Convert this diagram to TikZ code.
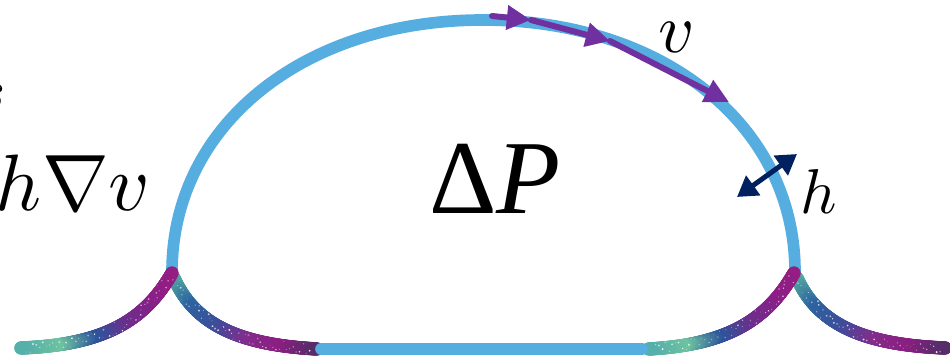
\documentclass[tikz,border=0pt]{standalone}
\usepackage{fontspec}
\newfontfamily\tms{Liberation Serif}
\usetikzlibrary{arrows.meta,decorations.markings}
\definecolor{domeblue}{RGB}{86,174,224}
\definecolor{vpurple}{RGB}{112,48,160}
\definecolor{hnavy}{RGB}{0,32,96}
% pattern A: purple -> green
\definecolor{gA0}{RGB}{150,30,130}
\definecolor{gA1}{RGB}{140,30,135}
\definecolor{gA2}{RGB}{110,45,140}
\definecolor{gA3}{RGB}{45,85,155}
\definecolor{gA4}{RGB}{110,195,160}
\definecolor{gA5}{RGB}{85,175,170}
% pattern B: teal -> dark purple
\definecolor{gB0}{RGB}{90,180,160}
\definecolor{gB1}{RGB}{45,100,160}
\definecolor{gB2}{RGB}{60,78,155}
\definecolor{gB3}{RGB}{130,45,140}
\definecolor{gB4}{RGB}{140,30,130}
\definecolor{gB5}{RGB}{85,45,105}
\newcommand\glitterfill[1]{%
  \pgfmathsetmacro\gf{(\pgfkeysvalueof{/pgf/decoration/mark info/distance from start})/(\pgfdecoratedpathlength)}%
  \pgfmathsetmacro\gs{5*min(\gf,0.9999)}%
  \pgfmathtruncatemacro\gk{floor(\gs)}%
  \pgfmathtruncatemacro\gkk{\gk+1}%
  \pgfmathsetmacro\gt{100*(\gs-\gk)}%
  \colorlet{gcur}{#1\gkk!\gt!#1\gk}%
  \fill[gcur] (0,0) circle (4pt);%
}
\newcommand\sparkle{%
  \pgfmathsetmacro\ry{(rnd-0.5)*6.5}%
  \pgfmathsetmacro\rr{0.2+0.5*rnd}%
  \pgfmathsetmacro\ro{0.3+0.6*rnd}%
  \fill[white,opacity=\ro] (0,\ry pt) circle (\rr pt);%
}
\tikzset{
  glitterA/.style={decorate,decoration={markings,
    mark=between positions 0 and 1 step 0.4pt with {\glitterfill{gA}}}},
  glitterB/.style={decorate,decoration={markings,
    mark=between positions 0 and 1 step 0.4pt with {\glitterfill{gB}}}},
  sparkles/.style={decorate,decoration={markings,
    mark=between positions 0.03 and 0.97 step 2pt with {\sparkle}}},
  dome/.style={draw=domeblue,line width=7pt},
  varrow/.style={draw=vpurple,line width=3.6pt,line cap=round,
    -{Triangle[length=14.5pt,width=14pt]}},
  harrow/.style={draw=hnavy,line width=3pt,
    {Triangle[length=12pt,width=14pt]}-{Triangle[length=12pt,width=14pt]}},
}
\begin{document}
\begin{tikzpicture}[x=0.6pt,y=0.6pt]
\pgfmathsetseed{7}
\useasboundingbox (0,0) rectangle (950,355);
% text labels
\node[anchor=base east,inner sep=0pt,scale=3.6] (s) at (7,245) {$s$};
\node[anchor=base east,inner sep=0pt,scale=4.8] (hgv) at (152,145) {$h\nabla v$};
\node[anchor=base,inner sep=0pt,font=\tms\fontsize{63}{70}\selectfont] (dP) at (495,142) {Δ\textit{P}};
\node[anchor=base,inner sep=0pt,scale=4.2] (vlab) at (677,302) {$v$};
\node[anchor=base west,inner sep=0pt,scale=3.8] (hlab) at (799,142) {$h$};
% dome
\coordinate (Lb) at (172,83);
\coordinate (Rb) at (795,83);
\coordinate (Top) at (483,335);
\draw[dome] (172,74) -- (Lb) .. controls (172,229) and (302.6,335) .. (Top)
  .. controls (664,335) and (795,229) .. (Rb) -- (795,74);
% glitter curves
\coordinate (L0) at (172,82);  \coordinate (L1) at (20,7);
\coordinate (L2) at (174,77);  \coordinate (L3) at (318,6);
\coordinate (R0) at (794,82);  \coordinate (R1) at (648,6);
\coordinate (R2) at (797,77);  \coordinate (R3) at (946,7);
\path[glitterB] (L2) .. controls (195,30) and (240,10) .. (L3);
\path[glitterA] (L0) .. controls (145,35) and (105,10) .. (L1);
\path[glitterB] (R2) .. controls (818,30) and (865,10) .. (R3);
\path[glitterA] (R0) .. controls (767,35) and (727,10) .. (R1);
\path[sparkles] (L2) .. controls (195,30) and (240,10) .. (L3);
\path[sparkles] (L0) .. controls (145,35) and (105,10) .. (L1);
\path[sparkles] (R2) .. controls (818,30) and (865,10) .. (R3);
\path[sparkles] (R0) .. controls (767,35) and (727,10) .. (R1);
% bottom blue line
\coordinate (B0) at (321,6);
\coordinate (B1) at (642,6);
\draw[dome,line cap=round] (B0) -- (B1);
% velocity arrows
\coordinate (v0) at (492,339);
\coordinate (v1) at (531,335);
\coordinate (v2) at (610,314);
\coordinate (v3) at (729,253);
\draw[varrow] (v0) -- (v1);
\draw[varrow] (v1) -- (v2);
\draw[varrow] (v2) -- (v3);
% thickness arrow
\coordinate (h0) at (737,158);
\coordinate (h1) at (797,201);
\draw[harrow] (h0) -- (h1);
\end{tikzpicture}
\end{document}
